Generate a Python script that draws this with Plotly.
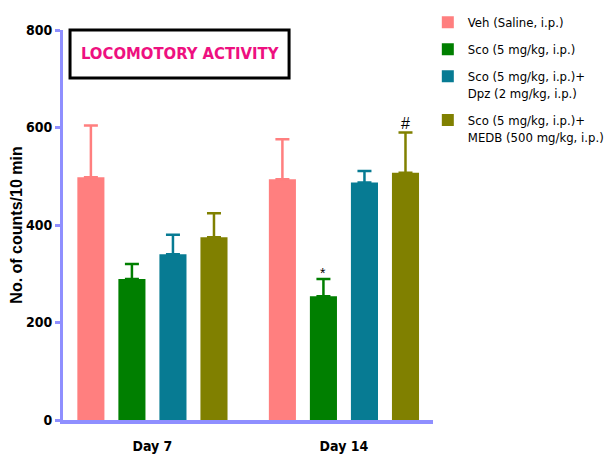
import plotly.graph_objects as go

days = ["Day 7", "Day 14"]
groups = ["Veh (Saline, i.p.)", "Sco (5 mg/kg, i.p.)",
          "Sco (5 mg/kg, i.p.)+<br>Dpz (2 mg/kg, i.p.)",
          "Sco (5 mg/kg, i.p.)+<br>MEDB (500 mg/kg, i.p.)"]
veh = [498, 494]
sco = [289, 254]
dpz = [340, 487]
medb = [375, 507]
veh_err = [106, 82]
sco_err = [31, 35]
dpz_err = [40, 24]
medb_err = [49, 83]
colors = ["#FF7F7F", "#007F00", "#077B93", "#808000"]
yticks = [0, 200, 400, 600, 800]

NARROW = "Liberation Sans Narrow, Arial Narrow, DejaVu Sans Condensed, sans-serif"
AXC = "#8F8FFF"

fig = go.Figure()
for i, (name, vals, errs, c) in enumerate(zip(groups, [veh, sco, dpz, medb],
                                              [veh_err, sco_err, dpz_err, medb_err], colors)):
    fig.add_trace(go.Bar(
        x=days, y=vals, name=name, legendgroup=f"g{i}",
        marker=dict(color=c, line=dict(width=0)),
        error_y=dict(type="data", array=errs, arrayminus=[0] * len(errs),
                     symmetric=False, color=c, thickness=2.5, width=7),
    ))

slot = 0.857 / 4
# significance marks
fig.add_annotation(x=1 - 0.5 * slot, y=sco[1] + sco_err[1], text="*", showarrow=False,
                   yanchor="bottom", yshift=-4, font=dict(family="Liberation Sans", size=14, color="black"))
fig.add_annotation(x=1 + 1.5 * slot, y=medb[1] + medb_err[1], text="#", showarrow=False,
                   yanchor="bottom", yshift=-2, font=dict(family="Liberation Sans", size=16, color="black"))

# title box
fig.add_shape(type="rect", xref="paper", yref="paper", x0=0.019, x1=0.611, y0=0.877, y1=1.0,
              line=dict(color="black", width=3), fillcolor="white", layer="above")
fig.add_annotation(xref="paper", yref="paper", x=0.315, y=0.9385, xanchor="center", yanchor="middle",
                   text="<b>LOCOMOTORY ACTIVITY</b>",
                   showarrow=False, font=dict(family=NARROW, size=16.5, color="#EE1080"))

fig.update_layout(
    width=606, height=446, margin=dict(l=55, r=181, t=22, b=34, autoexpand=False),
    paper_bgcolor="white", plot_bgcolor="white",
    barmode="group", bargap=0.143, bargroupgap=0.34,
    showlegend=True,
    legend=dict(x=0.986, y=1.058, xanchor="left", yanchor="top", xref="paper", yref="paper",
                font=dict(family=NARROW, size=13, color="black"), tracegroupgap=7,
                valign="top", traceorder="grouped",
                bgcolor="rgba(0,0,0,0)"),
    font=dict(family=NARROW, color="black"),
)
fig.update_xaxes(range=[-0.467, 1.465], showline=True, linecolor=AXC, linewidth=4,
                 ticks="outside", ticklen=10, tickcolor="rgba(0,0,0,0)",
                 tickfont=dict(family=NARROW, size=14, color="black"),
                 ticktext=["<b>Day 7</b>", "<b>Day 14</b>"], tickvals=days, showgrid=False)
fig.update_yaxes(range=[0, 800], tickvals=yticks, ticktext=[f"<b>{v}</b>" for v in yticks],
                 showline=True, linecolor=AXC, linewidth=3, ticks="outside", ticklen=5,
                 tickwidth=3, tickcolor=AXC, showgrid=False, zeroline=False,
                 tickfont=dict(family=NARROW, size=14, color="black"),
                 title=dict(text="<b>No. of counts/10 min</b>", standoff=14,
                            font=dict(family="Liberation Sans, Arial, sans-serif", size=16, color="black")))

fig.write_html("out.html")
